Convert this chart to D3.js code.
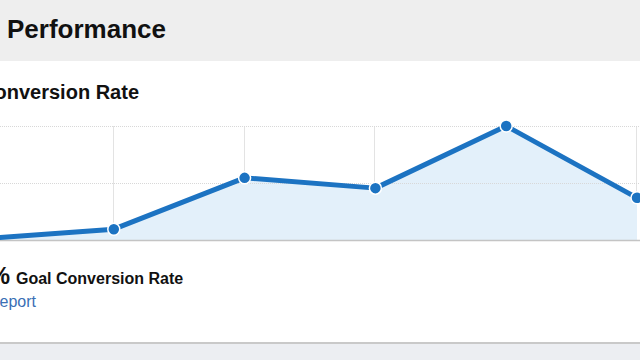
<!DOCTYPE html>
<html lang="en">
<head>
    <meta charset="UTF-8">
    <title>Goal Conversion Rate</title>
    <script src="https://d3js.org/d3.v7.min.js"></script>
    <style>
        html, body { margin: 0; padding: 0; background: #eceef2; }
        svg { display: block; font-family: Arial, "Liberation Sans", sans-serif; }
    </style>
</head>
<body>
    <svg id="chart" width="640" height="360"></svg>

    <script>
        // Data (conversion rate, %)
        const categories = ["Wk 1", "Wk 2", "Wk 3", "Wk 4", "Wk 5", "Wk 6"];
        const values = [0.02, 0.19, 1.09, 0.91, 2.0, 0.74];
        const yTicks = [1, 2];

        const svg = d3.select("#chart");
        const width = 640;

        // panels
        svg.append("rect").attr("x", 0).attr("y", 0).attr("width", width).attr("height", 61).attr("fill", "#eeeeee");
        svg.append("rect").attr("x", 0).attr("y", 61).attr("width", width).attr("height", 281).attr("fill", "#ffffff");
        svg.append("rect").attr("x", 0).attr("y", 342).attr("width", width).attr("height", 2).attr("fill", "#c9c9c9");

        svg.append("text")
            .attr("x", 7).attr("y", 38)
            .attr("font-size", 26).attr("font-weight", "bold").attr("fill", "#111")
            .text("Performance");

        svg.append("text")
            .attr("x", 139).attr("y", 99)
            .attr("text-anchor", "end")
            .attr("font-size", 20).attr("font-weight", "bold").attr("fill", "#111")
            .text("Goal Conversion Rate");

        // scales
        const x = d3.scaleLinear().domain([0, categories.length - 1]).range([-17, 637]);
        const y = d3.scaleLinear().domain([0, 2]).range([240, 126]);

        const chart = svg.append("g");

        // vertical grid
        chart.selectAll(".vgrid")
            .data(categories.slice(1))
            .enter().append("line")
            .attr("x1", (d, i) => Math.round(x(i + 1)) - 0.5)
            .attr("x2", (d, i) => Math.round(x(i + 1)) - 0.5)
            .attr("y1", y(2)).attr("y2", y(0))
            .attr("stroke", "#e3e3e3").attr("stroke-width", 1);

        // area
        const area = d3.area()
            .x((d, i) => x(i))
            .y0(y(0))
            .y1(d => y(d));
        chart.append("path").datum(values)
            .attr("d", area)
            .attr("fill", "#e3f0fa");

        // horizontal dotted grid
        chart.selectAll(".hgrid")
            .data(yTicks)
            .enter().append("line")
            .attr("x1", 0).attr("x2", width)
            .attr("y1", d => y(d) + 0.5).attr("y2", d => y(d) + 0.5)
            .attr("stroke", "#d8d8d8").attr("stroke-width", 1)
            .attr("stroke-dasharray", "1,1");

        // baseline
        chart.append("line")
            .attr("x1", 0).attr("x2", width)
            .attr("y1", y(0) + 0.5).attr("y2", y(0) + 0.5)
            .attr("stroke", "#c4c4c4").attr("stroke-width", 1.5);

        // line
        const line = d3.line()
            .x((d, i) => x(i))
            .y(d => y(d));
        chart.append("path").datum(values)
            .attr("d", line)
            .attr("fill", "none")
            .attr("stroke", "#1c73c2")
            .attr("stroke-width", 5)
            .attr("stroke-linejoin", "round");

        chart.selectAll(".pt")
            .data(values)
            .enter().append("circle")
            .attr("cx", (d, i) => x(i))
            .attr("cy", d => y(d))
            .attr("r", 6)
            .attr("fill", "#1c73c2")
            .attr("stroke", "#ffffff")
            .attr("stroke-width", 1.5);

        // summary
        svg.append("text")
            .attr("x", 10).attr("y", 284)
            .attr("text-anchor", "end")
            .attr("font-size", 24).attr("font-weight", "bold").attr("fill", "#111")
            .text("0.83%");

        svg.append("text")
            .attr("x", 16).attr("y", 284)
            .attr("font-size", 16).attr("font-weight", "bold").attr("fill", "#111")
            .text("Goal Conversion Rate");

        svg.append("text")
            .attr("x", 36).attr("y", 307)
            .attr("text-anchor", "end")
            .attr("font-size", 16).attr("fill", "#3a6fb5")
            .text("View report");
    </script>
</body>
</html>
